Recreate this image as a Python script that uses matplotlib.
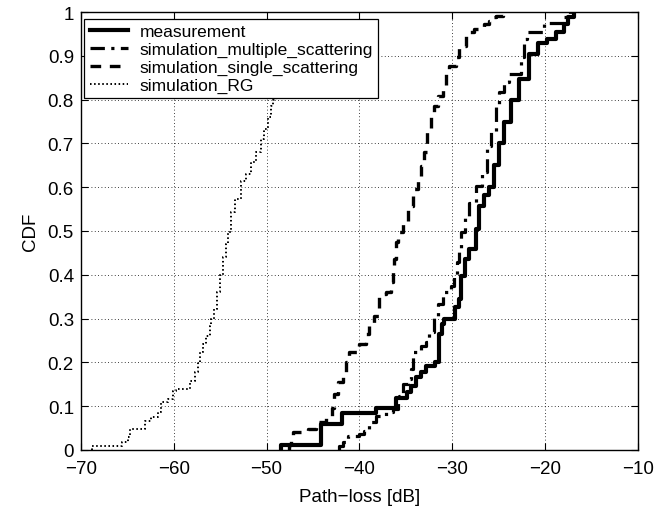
import matplotlib
matplotlib.use("Agg")
import matplotlib.pyplot as plt

plt.rcParams['font.family'] = ['Liberation Sans', 'DejaVu Sans']

# Measurement CDF (path loss in dB at which CDF steps up, and CDF after step)
meas_x = [-48.4, -44.1, -41.9, -38.2, -36.1, -34.9, -34.4, -33.9, -33.4, -32.8,
          -31.9, -31.4, -31.1, -30.9, -29.7, -29.25, -29.0, -28.6, -28.2, -27.45,
          -27.1, -26.56, -26.0, -25.5, -24.95, -24.4, -23.7, -22.8, -21.7, -20.7,
          -19.8, -18.85, -17.9, -17.5, -16.9]
meas_y = [0.012, 0.059, 0.084, 0.097, 0.118, 0.132, 0.147, 0.166, 0.177, 0.192,
          0.202, 0.265, 0.288, 0.299, 0.326, 0.345, 0.398, 0.436, 0.459, 0.505,
          0.558, 0.582, 0.60, 0.65, 0.70, 0.75, 0.80, 0.847, 0.904, 0.93,
          0.938, 0.954, 0.973, 0.988, 1.0]

# Simulation, multiple scattering
mult_x = [-42.2, -41.8, -41.26, -40.0, -39.46, -38.92, -38.2, -37.13, -36.42, -35.88,
          -35.7, -35.34, -34.81, -34.44, -34.27, -33.37, -32.83, -32.47, -31.94, -31.58,
          -31.04, -30.14, -29.78, -29.46, -29.25, -29.06, -28.6, -28.17, -27.45, -26.74,
          -26.2, -25.84, -25.3, -24.95, -24.41, -23.87, -22.61, -22.26, -21.9, -20.11,
          -17.96, -17.6, -17.3]
mult_y = [0.01, 0.018, 0.031, 0.037, 0.044, 0.063, 0.078, 0.086, 0.094, 0.116,
          0.124, 0.15, 0.162, 0.185, 0.223, 0.238, 0.246, 0.269, 0.307, 0.333,
          0.36, 0.375, 0.398, 0.43, 0.459, 0.497, 0.53, 0.565, 0.603, 0.634,
          0.695, 0.725, 0.786, 0.817, 0.84, 0.858, 0.897, 0.938, 0.954, 0.976,
          0.988, 0.995, 1.0]

# Simulation, single scattering
single_x = [-47.63, -47.34, -47.1, -45.56, -44.66, -43.58, -42.9, -42.69, -42.33, -41.8,
            -41.43, -41.08, -40.0, -39.28, -38.92, -38.39, -37.85, -37.13, -36.59, -36.42,
            -36.24, -36.05, -35.81, -35.34, -34.81, -34.27, -33.73, -33.37, -33.01, -32.66,
            -32.29, -31.94, -31.58, -31.04, -30.68, -30.32, -29.6, -29.25, -28.53, -27.63,
            -26.56, -26.02, -25.67, -25.3, -24.5]
single_y = [0.012, 0.025, 0.04, 0.048, 0.063, 0.078, 0.097, 0.128, 0.155, 0.177,
            0.2, 0.223, 0.242, 0.265, 0.284, 0.307, 0.356, 0.36, 0.383, 0.406,
            0.436, 0.474, 0.497, 0.52, 0.558, 0.596, 0.619, 0.649, 0.68, 0.725,
            0.76, 0.786, 0.809, 0.832, 0.862, 0.877, 0.897, 0.923, 0.954, 0.961,
            0.973, 0.98, 0.988, 0.99, 1.0]

# Simulation, RG (upper part hidden behind the legend, estimated)
rg_x = [-68.85, -65.62, -64.91, -64.73, -63.12, -62.4, -61.69, -61.32, -60.61, -60.08,
        -59.71, -58.28, -57.74, -57.39, -57.2, -56.85, -56.48, -56.13, -55.95, -55.7,
        -55.38, -55.05, -54.73, -54.41, -54.16, -53.8, -53.44, -52.72, -52.18, -51.65,
        -51.11, -50.57, -50.22, -49.86, -49.49, -49.32, -49.0, -48.6, -48.2, -47.8, -47.0]
rg_y = [0.01, 0.018, 0.029, 0.048, 0.067, 0.075, 0.086, 0.109, 0.116, 0.135,
        0.139, 0.158, 0.177, 0.2, 0.223, 0.242, 0.261, 0.284, 0.299, 0.322,
        0.36, 0.40, 0.44, 0.47, 0.497, 0.543, 0.573, 0.615, 0.63, 0.657,
        0.68, 0.71, 0.733, 0.76, 0.786, 0.80, 0.83, 0.87, 0.91, 0.94, 0.975]

labels = ['measurement', 'simulation_multiple_scattering',
          'simulation_single_scattering', 'simulation_RG']

fig = plt.figure(figsize=(6.63, 5.10), dpi=100)
ax = fig.add_axes([0.122, 0.1157, 0.840, 0.8588])


def stepcdf(x, y):
    return [x[0]] + list(x), [0.0] + list(y)


x, y = stepcdf(meas_x, meas_y)
ax.step(x, y, where='post', color='black', lw=3.0, label=labels[0])
x, y = stepcdf(mult_x, mult_y)
ax.step(x, y, where='post', color='black', lw=2.3, linestyle=(0, (4.5, 2, 1, 2)), label=labels[1])
x, y = stepcdf(single_x, single_y)
ax.step(x, y, where='post', color='black', lw=2.4, linestyle=(0, (3.2, 2.6)), label=labels[2])
x, y = stepcdf(rg_x, rg_y)
ax.step(x, y, where='post', color='black', lw=1.4, linestyle=(0, (0.8, 1.3)), label=labels[3])

ax.set_xlim(-70, -10)
ax.set_ylim(0, 1)
ax.set_xticks([-70, -60, -50, -40, -30, -20, -10])
ax.set_yticks([0, 0.1, 0.2, 0.3, 0.4, 0.5, 0.6, 0.7, 0.8, 0.9, 1.0])
ax.set_yticklabels(['0', '0.1', '0.2', '0.3', '0.4', '0.5', '0.6', '0.7', '0.8', '0.9', '1'])
ax.grid(True, color='black', linestyle=(0, (1, 3)), linewidth=0.6)
ax.tick_params(direction='in', top=True, right=True, labelsize=13.5, length=5, width=0.8)
ax.tick_params(axis='x', pad=7)
ax.tick_params(axis='y', pad=5)
for s in ax.spines.values():
    s.set_linewidth(1.0)
ax.set_xlabel('Path\u2212loss [dB]', fontsize=13.5, labelpad=8)
ax.set_ylabel('CDF', fontsize=13.5, labelpad=6)

leg = ax.legend(loc='upper left', bbox_to_anchor=(0.0, 0.992), fontsize=12.5,
                frameon=True, fancybox=False, edgecolor='black', framealpha=1,
                borderaxespad=0.2, labelspacing=0.15, handlelength=2.2,
                handletextpad=0.7, borderpad=0.3)
leg.get_frame().set_linewidth(0.9)

fig.savefig('out.png', dpi=100)
